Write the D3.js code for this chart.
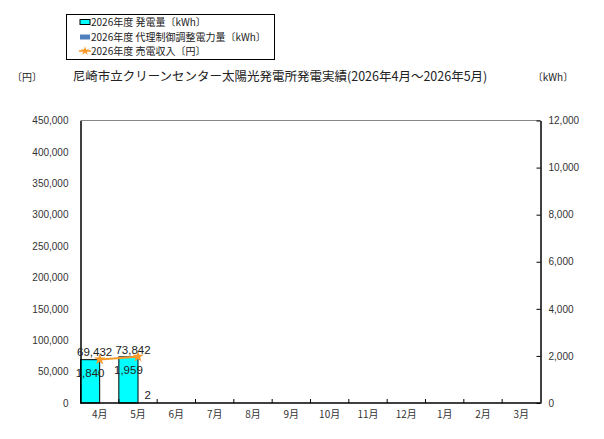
<!DOCTYPE html>
<html>
<head>
<meta charset="utf-8">
<style>
  body { margin: 0; background: #fff; }
  text { font-family: "Noto Sans CJK JP", "Liberation Sans", sans-serif; }
</style>
</head>
<body>
<div id="container"></div>
<script src="https://d3js.org/d3.v7.min.js"></script>
<script>
// data
var months = ["4月", "5月", "6月", "7月", "8月", "9月", "10月", "11月", "12月", "1月", "2月", "3月"];
var generation = [1840, 1959, null, null, null, null, null, null, null, null, null, null];   // kWh
var curtailment = [null, 2, null, null, null, null, null, null, null, null, null, null];     // kWh
var revenue = [69432, 73842, null, null, null, null, null, null, null, null, null, null];    // 円
var yenTicks = [0, 50000, 100000, 150000, 200000, 250000, 300000, 350000, 400000, 450000];
var kwhTicks = [0, 2000, 4000, 6000, 8000, 10000, 12000];
var legendLabels = ["2026年度 発電量〔kWh〕", "2026年度 代理制御調整電力量〔kWh〕", "2026年度 売電収入〔円〕"];

var W = 604, H = 439;
var plotL = 80.5, plotR = 540.5, plotT = 120.5, plotB = 403;

var svg = d3.select("#container").append("svg")
  .attr("width", W).attr("height", H);

var x = d3.scaleBand().domain(months).range([plotL, plotR]).padding(0);
var yYen = d3.scaleLinear().domain([0, 450000]).range([plotB, plotT]);
var yKwh = d3.scaleLinear().domain([0, 12000]).range([plotB, plotT]);
var fmt = d3.format(",");

// top border
svg.append("line")
  .attr("x1", plotL).attr("x2", plotR).attr("y1", plotT).attr("y2", plotT)
  .attr("stroke", "#888").attr("stroke-width", 1.2);

// bars - generation (left half), curtailment (right half)
var bw = x.bandwidth() / 2;
svg.append("g").selectAll("rect").data(months).enter()
  .filter(function (d, i) { return generation[i] != null; })
  .append("rect")
  .attr("x", function (d) { return x(d); })
  .attr("y", function (d) { return yKwh(generation[months.indexOf(d)]); })
  .attr("width", bw)
  .attr("height", function (d) { return plotB - yKwh(generation[months.indexOf(d)]); })
  .attr("fill", "#00FFFF").attr("stroke", "#000").attr("stroke-width", 1);

svg.append("g").selectAll("rect").data(months).enter()
  .filter(function (d, i) { return curtailment[i] != null; })
  .append("rect")
  .attr("x", function (d) { return x(d) + bw; })
  .attr("y", function (d) { return yKwh(curtailment[months.indexOf(d)]); })
  .attr("width", bw)
  .attr("height", function (d) { return plotB - yKwh(curtailment[months.indexOf(d)]); })
  .attr("fill", "#4F81BD");

// axes
var axL = svg.append("g").attr("transform", "translate(" + plotL + ",0)")
  .call(d3.axisLeft(yYen).tickValues(yenTicks).tickFormat(fmt).tickSize(0).tickPadding(12));
axL.select(".domain").attr("stroke", "#000").attr("stroke-width", 1.5);
axL.selectAll("text").style("font-family", "Liberation Sans, Arial").style("font-size", "10px").attr("fill", "#333");

var axR = svg.append("g").attr("transform", "translate(" + plotR + ",0)")
  .call(d3.axisLeft(yKwh).tickValues(kwhTicks).tickFormat(fmt).tickSize(4).tickSizeOuter(0));
axR.select(".domain").attr("stroke", "#000").attr("stroke-width", 1.5);
axR.selectAll("line").attr("stroke", "#000");
axR.selectAll("text").attr("x", 8).attr("text-anchor", "start")
  .style("font-family", "Liberation Sans, Arial").style("font-size", "10px").attr("fill", "#333");

var bdry = months.map(function (d) { return x(d); }).concat([plotR]);
var axB = svg.append("g").attr("transform", "translate(0," + plotB + ")");
axB.append("line").attr("x1", plotL).attr("x2", plotR).attr("stroke", "#000").attr("stroke-width", 1.5);
axB.selectAll(".tk").data(bdry.slice(1, 12)).enter().append("line")
  .attr("x1", function (d) { return d; }).attr("x2", function (d) { return d; })
  .attr("y1", 0).attr("y2", -4).attr("stroke", "#000");
axB.selectAll(".lb").data(months).enter().append("text")
  .attr("x", function (d) { return x(d) + x.bandwidth() / 2; })
  .attr("y", 15).attr("text-anchor", "middle")
  .style("font-size", "10px").attr("fill", "#333").text(function (d) { return d; });

// revenue line
var pts = months.map(function (d, i) { return { m: d, v: revenue[i] }; }).filter(function (p) { return p.v != null; });
var line = d3.line()
  .x(function (p) { return x(p.m) + x.bandwidth() / 2; })
  .y(function (p) { return yYen(p.v); });
svg.append("path").datum(pts).attr("d", line)
  .attr("fill", "none").attr("stroke", "#F79A2A").attr("stroke-width", 2);
svg.selectAll(".mk").data(pts).enter().append("path")
  .attr("d", d3.symbol().type(d3.symbolStar).size(40))
  .attr("transform", function (p) { return "translate(" + (x(p.m) + x.bandwidth() / 2) + "," + yYen(p.v) + ")"; })
  .attr("fill", "#F79A2A");

// data labels
var lblFont = "Liberation Sans, Arial";
svg.selectAll(".gl").data(months).enter()
  .filter(function (d, i) { return generation[i] != null; })
  .append("text")
  .attr("x", function (d) { return x(d) + bw / 2; })
  .attr("y", function (d) { return yKwh(generation[months.indexOf(d)]) + 17; })
  .attr("text-anchor", "middle").style("font-family", lblFont).style("font-size", "11.5px").attr("fill", "#222")
  .text(function (d) { return fmt(generation[months.indexOf(d)]); });

svg.selectAll(".cl").data(months).enter()
  .filter(function (d, i) { return curtailment[i] != null; })
  .append("text")
  .attr("x", function (d) { return x(d) + bw * 1.5; })
  .attr("y", function (d) { return yKwh(curtailment[months.indexOf(d)]) - 4; })
  .attr("text-anchor", "middle").style("font-family", lblFont).style("font-size", "11.5px").attr("fill", "#222")
  .text(function (d) { return fmt(curtailment[months.indexOf(d)]); });

svg.selectAll(".rl").data(pts).enter().append("text")
  .attr("x", function (p) { return x(p.m) + x.bandwidth() / 2 - 5; })
  .attr("y", function (p) { return yYen(p.v) - 3; })
  .attr("text-anchor", "middle").style("font-family", lblFont).style("font-size", "11.5px").attr("fill", "#222")
  .text(function (p) { return fmt(p.v); });

// title and unit labels
svg.append("text").attr("x", 280).attr("y", 81).attr("text-anchor", "middle")
  .style("font-size", "12.5px").attr("fill", "#222")
  .text("尼崎市立クリーンセンター太陽光発電所発電実績(2026年4月～2026年5月)");
svg.append("text").attr("x", 27).attr("y", 81).attr("text-anchor", "middle")
  .style("font-size", "10px").attr("fill", "#222").text("〔円〕");
svg.append("text").attr("x", 553).attr("y", 81).attr("text-anchor", "middle")
  .style("font-size", "10px").attr("fill", "#222").text("〔kWh〕");

// legend
var lg = svg.append("g");
lg.append("rect").attr("x", 66.5).attr("y", 14.5).attr("width", 208).attr("height", 45)
  .attr("fill", "#fff").attr("stroke", "#000").attr("stroke-width", 1);
var ly = [22, 37, 51];
lg.append("rect").attr("x", 80).attr("y", ly[0] - 2.5).attr("width", 10).attr("height", 5)
  .attr("fill", "#00FFFF").attr("stroke", "#000").attr("stroke-width", 1);
lg.append("rect").attr("x", 80).attr("y", ly[1] - 2.5).attr("width", 10).attr("height", 5)
  .attr("fill", "#4F81BD");
lg.append("line").attr("x1", 79).attr("x2", 91).attr("y1", ly[2]).attr("y2", ly[2])
  .attr("stroke", "#F79A2A").attr("stroke-width", 1.5);
lg.append("path").attr("d", d3.symbol().type(d3.symbolStar).size(25))
  .attr("transform", "translate(85," + ly[2] + ")").attr("fill", "#F79A2A");
lg.selectAll(".lt").data(legendLabels).enter().append("text")
  .attr("x", 91).attr("y", function (d, i) { return ly[i] + 3.5; })
  .style("font-size", "10px").attr("fill", "#222").text(function (d) { return d; });
</script>
</body>
</html>
